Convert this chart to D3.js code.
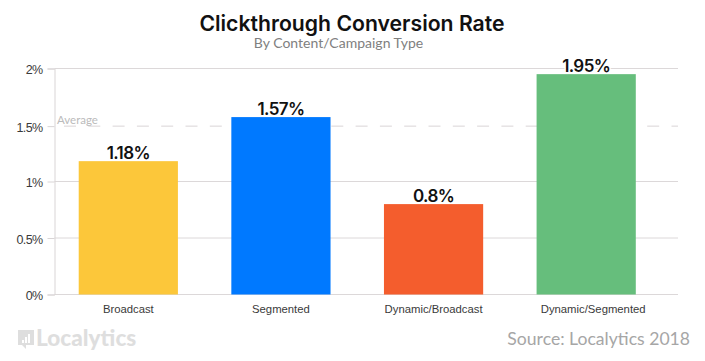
<!DOCTYPE html>
<html>
<head>
<meta charset="utf-8">
<script src="https://cdn.jsdelivr.net/npm/d3@7"></script>
<style>
    html, body { margin: 0; padding: 0; background: #fff; }
    svg { display: block; font-family: Lato, sans-serif; }
    .axis .domain { stroke: #d9d5d6; }
    .axis text { fill: #3a3a3a; }
</style>
</head>
<body>
<svg id="chart" width="705" height="361"></svg>
<script>
const categories = ['Broadcast', 'Segmented', 'Dynamic/Broadcast', 'Dynamic/Segmented'];
const rates = [1.18, 1.57, 0.8, 1.95];
const barColors = ['#fcc73a', '#0079ff', '#f45d2d', '#66be7c'];
const gridValues = [0, 0.5, 1, 2];
const yTickValues = [0, 0.5, 1, 1.49, 2];
const yTickLabels = ['0%', '0.5%', '1%', '1.5%', '2%'];
const averageRate = 1.49;

const svg = d3.select('#chart');

// Scales
const x = d3.scaleBand()
    .domain(categories)
    .range([52, 662.5])
    .paddingInner(0.35)
    .paddingOuter(0.175);

const y = d3.scaleLinear()
    .domain([0, 2])
    .range([294.5, 68.5]);

const plotLeft = 54.5;
const plotRight = 678;

// Title
svg.append('text')
    .attr('x', 352)
    .attr('y', 31)
    .attr('text-anchor', 'middle')
    .style('font-family', 'Inter, sans-serif')
    .style('font-size', '21.2px')
    .style('font-weight', '600')
    .style('fill', '#111')
    .text('Clickthrough Conversion Rate');

svg.append('text')
    .attr('x', 338.5)
    .attr('y', 48)
    .attr('text-anchor', 'middle')
    .style('font-size', '14px')
    .style('font-weight', '400')
    .style('fill', '#808080')
    .text('By Content/Campaign Type');

// Gridlines (solid), the 1.5% one is the dashed average line below
svg.append('g')
    .selectAll('line')
    .data(gridValues)
    .enter()
    .append('line')
    .attr('x1', plotLeft)
    .attr('x2', plotRight)
    .attr('y1', d => y(d))
    .attr('y2', d => y(d))
    .style('stroke', '#dcd8d9')
    .style('stroke-width', 1);

// Average line
svg.append('line')
    .attr('x1', 64)
    .attr('x2', plotRight)
    .attr('y1', y(averageRate))
    .attr('y2', y(averageRate))
    .style('stroke', '#d9d5d6')
    .style('stroke-width', 1)
    .style('stroke-dasharray', '12 12.3');

svg.append('text')
    .attr('x', 57)
    .attr('y', 123.5)
    .style('font-size', '11.5px')
    .style('fill', '#bbb')
    .text('Average');

// Y-axis
svg.append('g')
    .attr('class', 'axis y-axis')
    .attr('transform', `translate(${plotLeft},0)`)
    .call(d3.axisLeft(y)
        .tickValues(yTickValues)
        .tickSize(7)
        .tickPadding(5)
        .tickFormat((d, i) => yTickLabels[i]))
    .call(g => g.selectAll('.tick line').style('stroke', '#d9d5d6'))
    .selectAll('text')
    .attr('dy', '0.42em')
    .style('font-size', '12.5px')
    .style('letter-spacing', '-0.6px');

// X-axis labels
svg.append('g')
    .attr('class', 'axis x-axis')
    .attr('transform', `translate(0,${y(0)})`)
    .call(d3.axisBottom(x).tickSize(0).tickPadding(10))
    .call(g => g.select('.domain').remove())
    .selectAll('text')
    .attr('dx', d => d === 'Dynamic/Segmented' ? 7 : 0)
    .style('font-size', '11.3px');

// Bars
svg.selectAll('.bar')
    .data(categories)
    .enter()
    .append('rect')
    .attr('class', 'bar')
    .attr('x', d => x(d))
    .attr('y', (d, i) => y(rates[i]))
    .attr('width', x.bandwidth())
    .attr('height', (d, i) => y(0) - y(rates[i]))
    .style('fill', (d, i) => barColors[i]);

// Values on bars
svg.selectAll('.bar-label')
    .data(categories)
    .enter()
    .append('text')
    .attr('class', 'bar-label')
    .attr('x', d => x(d) + x.bandwidth() / 2)
    .attr('y', (d, i) => y(rates[i]) - 2.5)
    .attr('text-anchor', 'middle')
    .style('font-family', 'Inter, sans-serif')
    .style('font-size', '17px')
    .style('font-weight', '600')
    .style('letter-spacing', '-0.6px')
    .style('fill', '#111')
    .style('paint-order', 'stroke')
    .style('stroke', '#fff')
    .style('stroke-width', 3)
    .text((d, i) => rates[i] + '%');

// Logo, rough version of the mark plus wordmark
const logo = svg.append('g').attr('transform', 'translate(18,330)');
logo.append('path')
    .attr('d', 'M0,0H16V15H8L8,19L4,15H0Z')
    .style('fill', '#dedede');
logo.selectAll('rect')
    .data([3, 6, 9])
    .enter()
    .append('rect')
    .attr('x', d => d + 1)
    .attr('y', d => 13 - d)
    .attr('width', 2)
    .attr('height', d => d)
    .style('fill', '#fff');
svg.append('text')
    .attr('x', 36)
    .attr('y', 346)
    .style('font-size', '22.6px')
    .style('font-weight', '900')
    .style('fill', '#dedede')
    .text('Localytics');

// Source
svg.append('text')
    .attr('x', 690)
    .attr('y', 345)
    .attr('text-anchor', 'end')
    .style('font-size', '17.6px')
    .style('fill', '#a6a6a6')
    .text('Source: Localytics 2018');
</script>
</body>
</html>
